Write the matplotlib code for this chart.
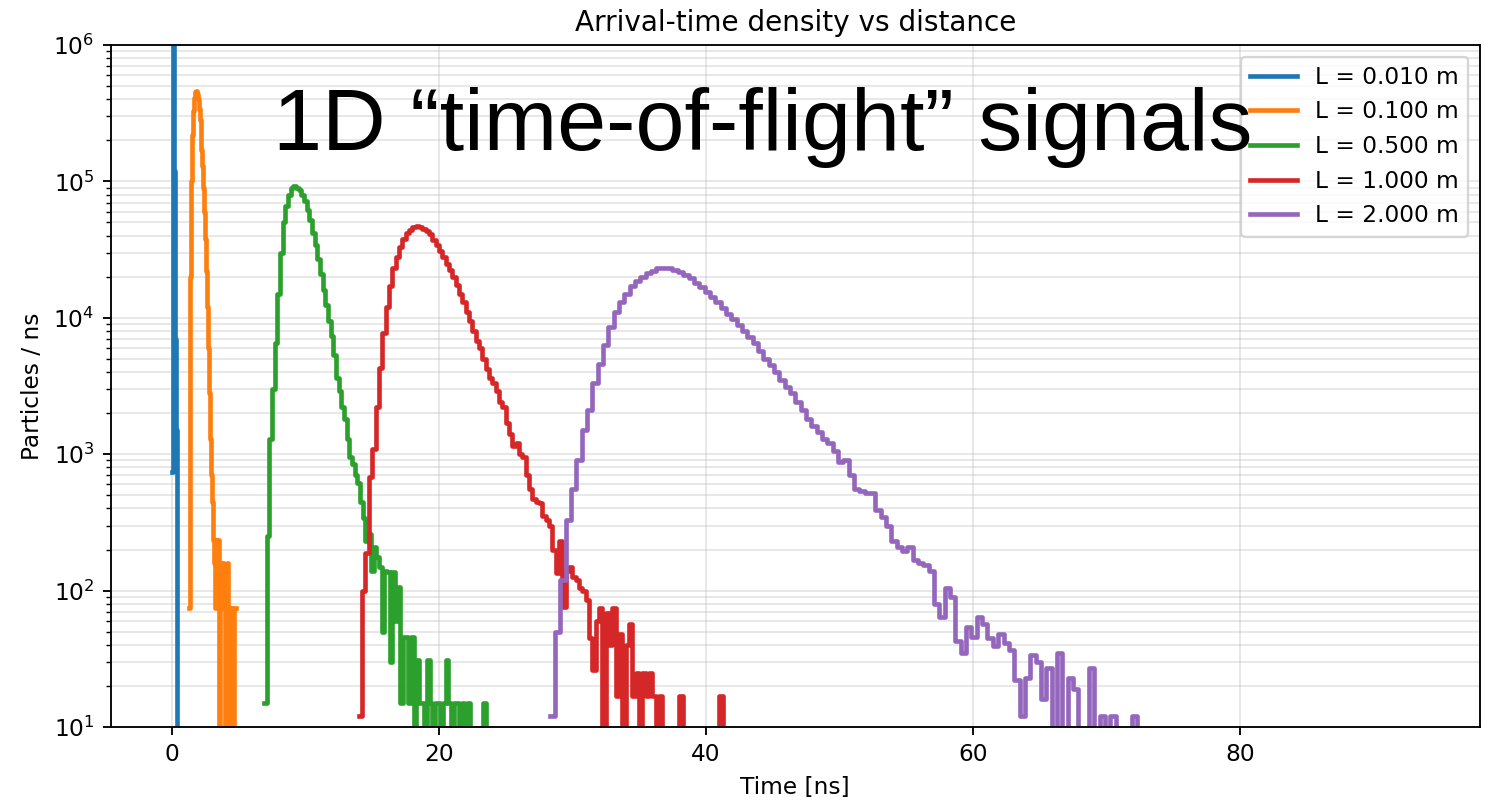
import numpy as np
import matplotlib
matplotlib.use("Agg")
import matplotlib.pyplot as plt

# arrival-time densities (particles / ns), read bin by bin off the reference
labels = ['L = 0.010 m', 'L = 0.100 m', 'L = 0.500 m', 'L = 1.000 m', 'L = 2.000 m']

t_start = [0.0, 1.30, 6.9, 14.0, 28.3]
t_stop = [0.45, 4.80, 23.7, 41.5, 72.7]

blue_vals = [740, 2.5e6, 2.0e6, 1.2e5, 2.5e4, 7000, 1500, 1500, 0]

orange_vals = [
    75, 2.0e4, 1.0e5, 2.2e5, 3.3e5, 4.1e5, 4.5e5, 4.6e5, 4.4e5, 4.0e5,
    3.4e5, 2.8e5, 2.2e5, 1.7e5, 1.3e5, 9.0e4, 6.0e4, 3.8e4, 2.2e4, 1.2e4,
    6000, 2800, 1300, 700, 450, 235, 160, 235, 75, 235,
    160, 235, 0, 160, 75, 160, 160, 75, 0, 75,
    160, 0, 75, 75, 0, 75, 75, 0, 75, 75,
]

green_vals = [
    15, 250, 1300, 3000, 6500, 15000, 30000, 50000, 66000, 80000,
    89000, 92000, 90000, 86000, 80000, 72000, 62000, 52000, 42000, 34000,
    27000, 21000, 16000, 12500, 9500, 7300, 5300, 3600, 2900, 2200,
    1800, 1300, 950, 850, 700, 620, 450, 340, 230, 260,
    140, 210, 175, 150, 50, 140, 137, 30, 137, 60,
    107, 15, 46, 46, 15, 46, 0, 31, 15, 15,
    0, 31, 15, 0, 15, 15, 0, 15, 31, 15,
    0, 15, 15, 0, 15, 0, 15, 0, 0, 0,
    0, 0, 15, 0,
]

red_vals = [
    12, 100, 190, 680, 1100, 2200, 4300, 7700, 12000, 17000,
    23000, 28000, 33000, 38000, 42000, 44000, 46000, 47000, 46500, 45000,
    43000, 41000, 37000, 34000, 31000, 28000, 25000, 22500, 20000, 17500,
    15000, 13000, 11000, 9500, 8000, 6800, 6000, 5000, 4200, 3600,
    3300, 2900, 2400, 2200, 1700, 1400, 1150, 1200, 1000, 950,
    700, 560, 470, 450, 440, 350, 330, 300, 200, 135,
    230, 76, 140, 150, 125, 120, 105, 100, 85, 45,
    26, 60, 74, 0, 68, 40, 74, 17, 48, 0,
    40, 57, 17, 25, 0, 25, 17, 25, 17, 0,
    17, 0, 0, 0, 0, 0, 17, 0, 0, 0,
    0, 0, 0, 0, 0, 0, 0, 0, 17, 0,
]

purple_vals = [
    12, 50, 120, 330, 560, 900, 1500, 2100, 3300, 4600,
    6300, 8500, 11000, 13000, 15000, 17000, 18500, 20000, 21200, 22200,
    23000, 23300, 23000, 22500, 21500, 20500, 19500, 18000, 16800, 15500,
    14300, 13000, 11800, 10700, 9800, 8800, 8000, 7200, 6500, 5700,
    5000, 4500, 4000, 3500, 3100, 2800, 2400, 2100, 1800, 1600,
    1450, 1300, 1200, 1050, 870, 900, 700, 560, 540, 520,
    520, 390, 345, 300, 230, 210, 195, 210, 168, 160,
    155, 140, 80, 64, 104, 90, 43, 35, 54, 46,
    64, 57, 45, 39, 48, 41, 37, 22, 12, 23,
    34, 30, 16, 27, 0, 35, 0, 23, 19, 0,
    0, 27, 0, 12, 0, 12, 0, 0, 0, 12,
    0,
]

series = [blue_vals, orange_vals, green_vals, red_vals, purple_vals]

fig = plt.figure(figsize=(1490 / 167, 802 / 167), dpi=167)
ax = fig.add_axes([0.0742, 0.0935, 0.9191, 0.8504])

for i, vals in enumerate(series):
    vals = np.asarray(vals, dtype=float)
    edges = np.linspace(t_start[i], t_stop[i], len(vals) + 1)
    ax.step(edges, np.append(vals, vals[-1]), where='post', lw=2,
            color='C%d' % i, label=labels[i])

ax.set_yscale('log')
ax.set_ylim(10, 1e6)
ax.set_xlim(-4.6, 98.0)
ax.set_xticks([0, 20, 40, 60, 80])
ax.set_title('Arrival-time density vs distance', fontsize=12)
ax.set_xlabel('Time [ns]')
ax.set_ylabel('Particles / ns')
ax.grid(True, which='both', alpha=0.3)
ax.legend(loc='upper right')

fig.text(0.183, 0.813, '1D \u201ctime-of-flight\u201d signals', fontsize=38,
         family='Liberation Sans', va='baseline', ha='left', zorder=10)

fig.savefig('out.png', dpi=167)
